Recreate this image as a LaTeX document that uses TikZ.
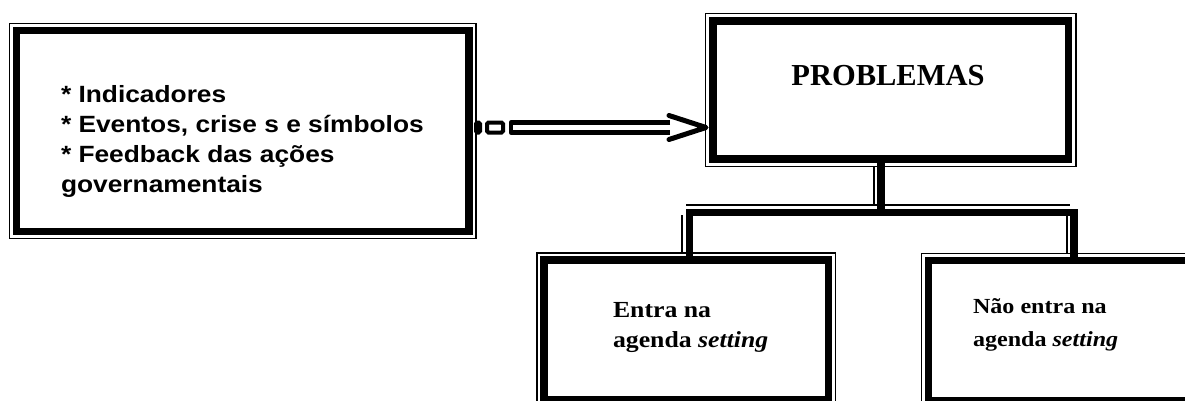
\documentclass[tikz,border=0pt]{standalone}
\usepackage{fontspec}
\setmainfont{Liberation Serif}
\newfontfamily\arialf{Liberation Sans}
\usetikzlibrary{calc}
\begin{document}
\begin{tikzpicture}[x=1pt,y=1pt,
  thickline/.style={line width=7.5pt},
  thinline/.style={line width=1.5pt},
  dbox/.style={draw, thickline, inner sep=0pt, outer sep=0pt},
  txt/.style={inner sep=0pt, outer sep=0pt, anchor=north west},
  shaftline/.style={line width=4.5pt, line join=round},
  headline/.style={line width=5pt, line cap=round, line join=round},
  dashbox/.style={line width=4pt, rounded corners=1.5pt}
]
\fill[white] (0,0) rectangle (1185,400);
\useasboundingbox (0,0) rectangle (1185,400);
\begin{scope}
\clip (0,0) rectangle (1185,400);

% boxes
\node[dbox, minimum width=452.5pt, minimum height=201pt] (src) at (242.75,269) {};
\draw[thinline] ($(src.south west)+(-7,-7)$) rectangle ($(src.north east)+(7,7)$);

\node[dbox, minimum width=355.5pt, minimum height=138pt] (prob) at (890.75,310) {};
\draw[thinline] ($(prob.south west)+(-7.5,-7.5)$) rectangle ($(prob.north east)+(7.5,7.5)$);

\node[dbox, minimum width=284.5pt, minimum height=140pt] (yes) at (686.25,70) {};
\draw[thinline] ($(yes.south west)+(-7,-7)$) rectangle ($(yes.north east)+(7,7)$);

\node[dbox, minimum width=284.5pt, minimum height=140pt] (no) at (1070.75,69.5) {};
\draw[thinline] ($(no.south west)+(-7,-7)$) rectangle ($(no.north east)+(7,7)$);

% texts
\node[txt] (srctxt) at (61,319.2) {\arialf\bfseries\fontsize{23.5}{30.3}\selectfont
  \scalebox{1.12}[1]{\begin{tabular}{@{}l@{}}
  {*} Indicadores\\
  {*} Eventos, crise s e símbolos\\
  {*} Feedback das ações\\
  governamentais
  \end{tabular}}};

\node[inner sep=0pt, anchor=base] (probtxt) at (888,315)
  {\bfseries\fontsize{30.5}{36}\selectfont PROBLEMAS};

\node[txt] (yestxt) at (613,104) {\bfseries\fontsize{23}{30}\selectfont
  \scalebox{1.12}[1]{\begin{tabular}{@{}l@{}}
  Entra na\\
  agenda \textit{setting}
  \end{tabular}}};

\node[txt] (notxt) at (973,110.1) {\bfseries\fontsize{21.5}{33}\selectfont
  \scalebox{1.12}[1]{\begin{tabular}{@{}l@{}}
  Não entra na\\
  agenda \textit{setting}
  \end{tabular}}};

% arrow from src to prob
\coordinate (ac) at ($(src.east)+(0,3.5)$);
\coordinate (tip) at ($(ac -| prob.west)+(-7,0)$);
\draw[dashbox] ($(ac)+(7,-5)$) rectangle ($(ac)+(11,5)$);
\draw[dashbox] ($(ac)+(18,-5)$) rectangle ($(ac)+(34,5)$);
\draw[shaftline] ($(tip)+(-36,5)$) -- ($(ac)+(42,5)$) -- ($(ac)+(42,-5)$) -- ($(tip)+(-36,-5)$);
\draw[headline] ($(tip)+(-37,12)$) -- (tip) -- ($(tip)+(-37,-12)$);

% tree connector
\coordinate (pa) at ($(prob.south)+(-9.75,0)$);
\coordinate (j) at ($(pa)+(0,-53.5)$);
\coordinate (ya) at ($(yes.north)+(3.25,0)$);
\coordinate (na) at ($(no.north)+(3.25,0)$);
\draw[thinline] ($(ya |- j)+(-3.5,7.5)$) -- ($(na |- j)+(-4,7.5)$);
\draw[thickline] (ya) -- (ya |- j) -- (na |- j) -- (na);
\draw[thickline] (pa) -- (j);
\draw[thinline] ($(pa)+(-7,-8)$) -- ($(j)+(-7,7.5)$);
\draw[thinline] ($(ya |- j)+(-7.5,-2.5)$) -- ($(ya)+(-7.5,7)$);
\draw[thinline] ($(na |- j)+(-7,-3.5)$) -- ($(na)+(-7,7.5)$);
\end{scope}
\end{tikzpicture}
\end{document}
